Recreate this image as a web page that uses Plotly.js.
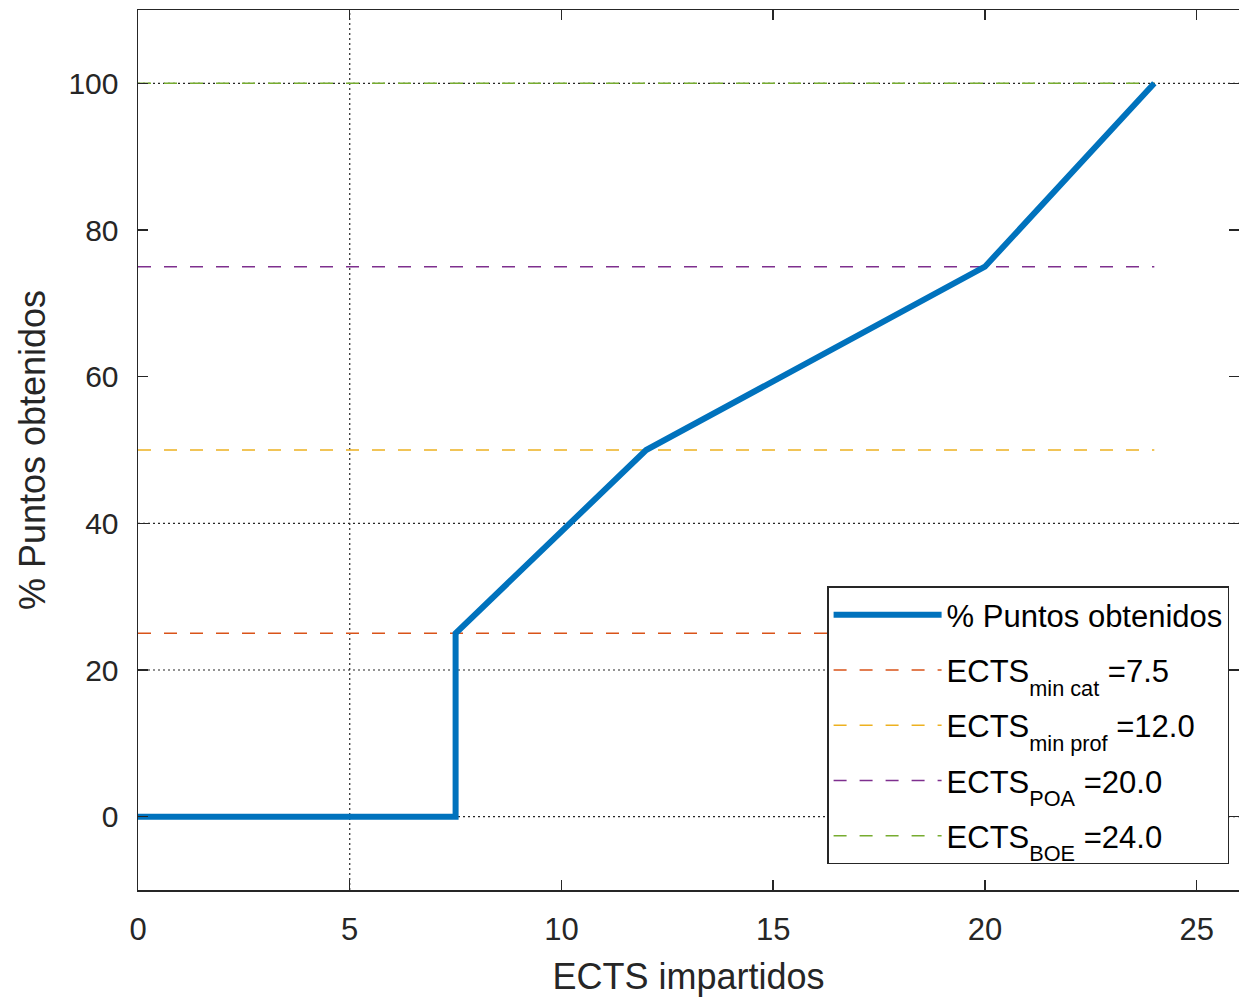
<!DOCTYPE html>
<html>
<head>
<meta charset="utf-8">
<script src="https://cdn.plot.ly/plotly-3.0.1.min.js"></script>
<style>html,body{margin:0;padding:0;background:#fff;}#chart{width:1239px;height:998px;}</style>
</head>
<body>
<div id="chart"></div>
<script>
// Data
const puntosX = [0, 7.5, 7.5, 12, 20, 24];
const puntosY = [0, 0, 25, 50, 75, 100];
const refMain = ["ECTS", "ECTS", "ECTS", "ECTS"];
const refSubs = ["min cat", "min prof", "POA", "BOE"];
const refValues = ["7.5", "12.0", "20.0", "24.0"];
const refLevels = [25, 50, 75, 100];
const refX = [0, 24];
const refColors = ["#D95319", "#EDB120", "#7E2F8E", "#77AC30"];
const xTicks = [0, 5, 10, 15, 20, 25];
const yTicks = [0, 20, 40, 60, 80, 100];
const gridX = [5];
const gridY = [0, 20, 40, 100];

const traces = [{
  x: puntosX, y: puntosY, mode: 'lines', name: '% Puntos obtenidos',
  legendgroup: 'g0', legendrank: 1,
  line: {color: '#0072BD', width: 6}
}];
refLevels.forEach((lv, i) => {
  traces.push({
    x: refX, y: refX.map(() => lv), mode: 'lines',
    name: refMain[i] + '<sub><span style="baseline-shift:-7px">' + refSubs[i] + '</span></sub> =' + refValues[i],
    legendgroup: 'g' + (i + 1), legendrank: i + 2,
    line: {color: refColors[i], width: 1.5, dash: '13px,13px'}
  });
});
// draw reference lines first so the main line is on top; legend order via legendrank
const drawOrder = traces.slice(1).concat([traces[0]]);

const shapes = [];
gridX.forEach(v => shapes.push({type:'line', xref:'x', yref:'paper', x0:v, x1:v, y0:0, y1:1, layer:'below', line:{color:'#262626', width:1.2, dash:'2px,3px'}}));
gridY.forEach(v => shapes.push({type:'line', xref:'paper', yref:'y', x0:0, x1:1, y0:v, y1:v, layer:'below', line:{color:'#262626', width:1.2, dash:'2px,3px'}}));

const regular = 'Liberation Sans, Arial, sans-serif';

const layout = {
  width: 1239, height: 998,
  margin: {l: 138, r: 0, t: 10, b: 108},
  paper_bgcolor: '#fff', plot_bgcolor: '#fff',
  showlegend: true,
  legend: {
    x: 0.991, y: 0.029, xanchor: 'right', yanchor: 'bottom',
    bgcolor: '#fff', bordercolor: '#262626', borderwidth: 1.5,
    font: {family: regular, size: 31, color: '#000'},
    itemwidth: 108, traceorder: 'grouped', tracegroupgap: 12
  },
  xaxis: {
    range: [0, 26], tickvals: xTicks, ticktext: xTicks.map(String),
    ticks: 'inside', ticklen: 10, tickwidth: 1.5, tickcolor: '#262626',
    showline: true, linecolor: '#262626', linewidth: 1.5, mirror: 'allticks',
    showgrid: false, zeroline: false,
    tickfont: {family: regular, size: 31, color: '#262626'},
    ticklabelstandoff: 11,
    title: {text: 'ECTS impartidos', font: {family: regular, size: 36, color: '#262626'}, standoff: 18}
  },
  yaxis: {
    range: [-10, 110], tickvals: yTicks, ticktext: yTicks.map(String),
    ticks: 'inside', ticklen: 10, tickwidth: 1.5, tickcolor: '#262626',
    showline: true, linecolor: '#262626', linewidth: 1.5, mirror: 'allticks',
    showgrid: false, zeroline: false,
    tickfont: {family: regular, size: 30, color: '#262626'},
    ticklabelstandoff: 12,
    title: {text: '% Puntos obtenidos', font: {family: regular, size: 36, color: '#262626'}, standoff: 12}
  },
  shapes: shapes
};

Plotly.newPlot('chart', drawOrder, layout, {displayModeBar: false, staticPlot: true});
</script>
</body>
</html>
